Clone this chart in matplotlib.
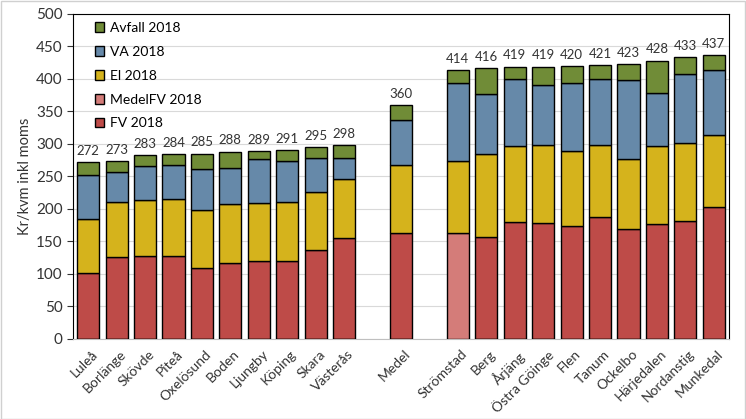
import numpy as np
import matplotlib
matplotlib.use('Agg')
import matplotlib.pyplot as plt
from matplotlib.patches import Patch
from matplotlib.transforms import ScaledTranslation

plt.rcParams['font.family'] = ['Lato', 'DejaVu Sans']

# Data (kr/kvm inkl moms)
kommuner = ['Luleå', 'Borlänge', 'Skövde', 'Piteå', 'Oxelösund', 'Boden', 'Ljungby',
            'Köping', 'Skara', 'Västerås', 'Medel', 'Strömstad', 'Berg', 'Årjäng',
            'Östra Göinge', 'Flen', 'Tanum', 'Ockelbo', 'Härjedalen', 'Nordanstig', 'Munkedal']
fv = [101, 126, 127, 127, 109, 117, 120, 120, 137, 155, 163, 0, 157, 180, 178, 173, 187, 169, 177, 181, 203]
medel_fv = [0, 0, 0, 0, 0, 0, 0, 0, 0, 0, 0, 163, 0, 0, 0, 0, 0, 0, 0, 0, 0]
el = [83, 85, 87, 88, 90, 91, 89, 91, 89, 91, 105, 111, 127, 116, 121, 116, 111, 107, 119, 120, 110]
va = [68, 46, 52, 52, 63, 55, 68, 62, 52, 32, 69, 119, 93, 104, 92, 104, 102, 123, 83, 107, 100]
avfall = [20, 16, 17, 17, 23, 25, 12, 18, 17, 20, 23, 21, 39, 19, 28, 27, 21, 24, 49, 25, 24]
totals = [272, 273, 283, 284, 285, 288, 289, 291, 295, 298, 360, 414, 416, 419, 419, 420, 421, 423, 428, 433, 437]

# slot positions: gap before and after Medel
pos = np.array(list(range(10)) + [11] + list(range(13, 23)))

c_fv = '#BE4B48'
c_medel = '#D47C79'
c_el = '#D5B31C'
c_va = '#6689A9'
c_avf = '#708C37'

fig = plt.figure(figsize=(7.46, 4.19), dpi=100)
ax = fig.add_axes([0.098, 0.191, 0.879, 0.776])

w = 0.78
kw = dict(width=w, edgecolor='black', linewidth=1.0, zorder=3)
fv_a = np.array(fv)
md_a = np.array(medel_fv)
el_a = np.array(el)
va_a = np.array(va)
av_a = np.array(avfall)
base = fv_a + md_a
ax.bar(pos, fv_a, color=c_fv, **kw)
ax.bar(pos, md_a, color=c_medel, **kw)
ax.bar(pos, el_a, bottom=base, color=c_el, **kw)
ax.bar(pos, va_a, bottom=base + el_a, color=c_va, **kw)
ax.bar(pos, av_a, bottom=base + el_a + va_a, color=c_avf, **kw)

for x, t, h in zip(pos, totals, base + el_a + va_a + av_a):
    ax.text(x, h + 8, str(t), ha='center', va='bottom', fontsize=9.5, color='#333333')

ax.set_ylim(0, 500)
ax.set_xlim(-0.53, 22.53)
ax.set_yticks(range(0, 501, 50))
ax.tick_params(axis='y', labelsize=11, length=4, colors='#333333')
ax.tick_params(axis='x', length=0, pad=5)
ax.set_xticks(pos)
ax.set_xticklabels(kommuner, rotation=45, ha='right', rotation_mode='anchor',
                   fontsize=10, color='#333333')
shift = ScaledTranslation(3 / 100, -2 / 100, fig.dpi_scale_trans)
for lab in ax.get_xticklabels():
    lab.set_transform(lab.get_transform() + shift)
ax.set_ylabel('Kr/kvm inkl moms', fontsize=10.5, color='#333333', labelpad=3)
ax.grid(axis='y', color='#D9D9D9', linewidth=0.8, zorder=0)
ax.set_axisbelow(True)
for s in ['left', 'top', 'right']:
    ax.spines[s].set_color('black')
ax.spines['bottom'].set_color('#BFBFBF')

handles = [Patch(facecolor=c_avf, edgecolor='black', label='Avfall 2018'),
           Patch(facecolor=c_va, edgecolor='black', label='VA 2018'),
           Patch(facecolor=c_el, edgecolor='black', label='El 2018'),
           Patch(facecolor=c_medel, edgecolor='black', label='MedelFV 2018'),
           Patch(facecolor=c_fv, edgecolor='black', label='FV 2018')]
ax.legend(handles=handles, loc='upper left', frameon=False, fontsize=10,
          handlelength=0.7, handleheight=0.7, handletextpad=0.4,
          labelspacing=0.85, borderaxespad=0.2, bbox_to_anchor=(0.02, 1.0))

fig.patches.append(plt.Rectangle((0.001, 0.001), 0.997, 0.997, transform=fig.transFigure,
                                 fill=False, edgecolor='#D0D0D0', linewidth=1))

fig.savefig('out.png', dpi=100)
